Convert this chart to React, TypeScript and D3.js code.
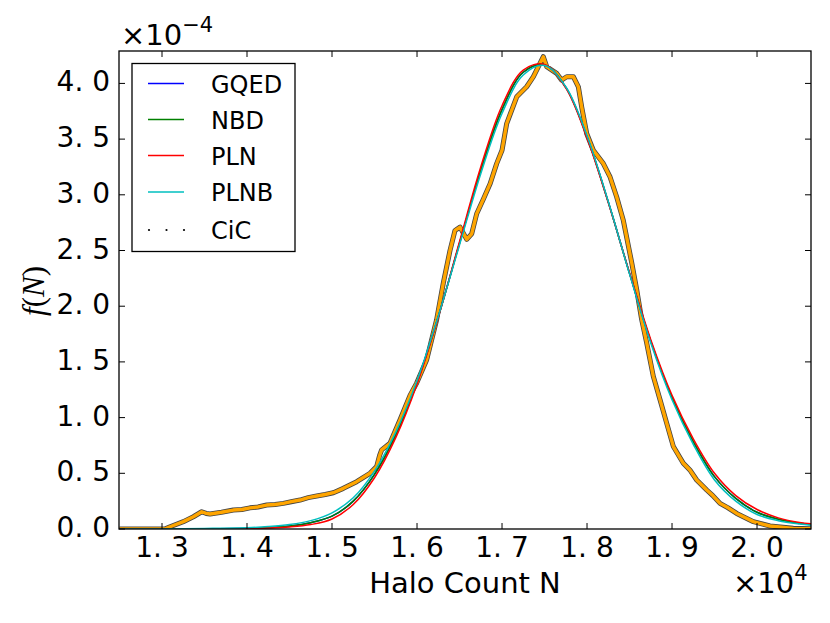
import React, { useRef, useEffect } from 'react';
import * as d3 from 'd3';

// model curves, f(N) in units of 1e-4
const modelN = [12500, 13000, 13500, 14000, 14250, 14500, 14750, 15000, 15250, 15500, 15750, 16000, 16250, 16500, 16750, 17000, 17250, 17500, 17750, 18000, 18250, 18500, 18750, 19000, 19250, 19500, 19750, 20000, 20250, 20500, 20650];
const gqed = [0, 0.0005, 0.002, 0.007, 0.014, 0.028, 0.057, 0.115, 0.25, 0.49, 0.845, 1.315, 1.905, 2.565, 3.22, 3.765, 4.10, 4.165, 3.965, 3.52, 2.935, 2.295, 1.685, 1.18, 0.785, 0.47, 0.275, 0.15, 0.088, 0.052, 0.040];
const nbd = [0, 0.0005, 0.002, 0.007, 0.014, 0.028, 0.057, 0.115, 0.25, 0.49, 0.845, 1.315, 1.905, 2.565, 3.22, 3.765, 4.10, 4.165, 3.965, 3.52, 2.935, 2.295, 1.685, 1.18, 0.785, 0.47, 0.275, 0.15, 0.088, 0.052, 0.040];
const pln = [0, 0, 0.0005, 0.003, 0.008, 0.018, 0.040, 0.090, 0.22, 0.46, 0.82, 1.30, 1.90, 2.58, 3.25, 3.80, 4.12, 4.17, 3.96, 3.51, 2.93, 2.30, 1.70, 1.20, 0.81, 0.50, 0.30, 0.175, 0.10, 0.058, 0.046];
const plnb = [0, 0.001, 0.005, 0.012, 0.022, 0.040, 0.075, 0.145, 0.28, 0.52, 0.87, 1.33, 1.91, 2.55, 3.19, 3.73, 4.075, 4.16, 3.97, 3.53, 2.94, 2.29, 1.67, 1.16, 0.76, 0.44, 0.25, 0.13, 0.075, 0.045, 0.033];

// counts-in-cells measurement
const cicN = [12500, 12900, 13030, 13094, 13251, 13369, 13467, 13520, 13565, 13700, 13839, 13940, 14035, 14130, 14231, 14330, 14427, 14520, 14624, 14720, 14820, 14920, 15016, 15133, 15290, 15447, 15525, 15560, 15584, 15682, 15800, 15918, 15996, 16114, 16231, 16310, 16388, 16447, 16506, 16585, 16643, 16702, 16780, 16860, 16937, 17000, 17055, 17173, 17290, 17369, 17447, 17486, 17526, 17643, 17700, 17761, 17839, 17898, 17937, 17996, 18074, 18192, 18271, 18349, 18427, 18526, 18584, 18643, 18702, 18780, 18859, 18937, 19016, 19133, 19210, 19290, 19408, 19480, 19565, 19660, 19761, 19957, 20153, 20427, 20635];
const cicF = [0, 0, 0, 0.02, 0.066, 0.11, 0.155, 0.14, 0.135, 0.15, 0.17, 0.175, 0.19, 0.198, 0.215, 0.22, 0.23, 0.245, 0.26, 0.282, 0.296, 0.31, 0.326, 0.365, 0.425, 0.50, 0.56, 0.66, 0.71, 0.77, 0.98, 1.20, 1.31, 1.52, 1.88, 2.21, 2.50, 2.68, 2.71, 2.60, 2.65, 2.83, 2.96, 3.10, 3.28, 3.40, 3.64, 3.88, 3.97, 4.06, 4.18, 4.24, 4.15, 4.09, 4.03, 4.06, 4.06, 3.97, 3.79, 3.55, 3.40, 3.28, 3.16, 2.98, 2.77, 2.39, 2.15, 1.88, 1.67, 1.37, 1.16, 0.95, 0.74, 0.59, 0.53, 0.44, 0.35, 0.30, 0.23, 0.19, 0.14, 0.066, 0.027, 0.006, 0.003];

const xTicks = [13000, 14000, 15000, 16000, 17000, 18000, 19000, 20000];
const xTickLabels = ['1. 3', '1. 4', '1. 5', '1. 6', '1. 7', '1. 8', '1. 9', '2. 0'];
const yTicks = [0, 0.5, 1, 1.5, 2, 2.5, 3, 3.5, 4];
const yTickLabels = ['0. 0', '0. 5', '1. 0', '1. 5', '2. 0', '2. 5', '3. 0', '3. 5', '4. 0'];

const seriesNames = ['GQED', 'NBD', 'PLN', 'PLNB'];
const seriesColors = ['#0000ff', '#008000', '#ff0000', '#00bfbf'];
const seriesValues = [gqed, nbd, pln, plnb];

const App: React.FC = () => {
  const svgRef = useRef<SVGSVGElement>(null);

  useEffect(() => {
    const svg = d3.select(svgRef.current);
    svg.selectAll('*').remove();

    const width = 830;
    const height = 623;
    const left = 119, right = 811, top = 51, bottom = 529;
    const font = 'DejaVu Sans, sans-serif';

    svg.attr('width', width).attr('height', height);

    const x = d3.scaleLinear().domain([12494, 20635]).range([left, right]);
    const y = d3.scaleLinear().domain([0, 4.291]).range([bottom, top]);

    svg.append('defs').append('clipPath').attr('id', 'plot-clip')
      .append('rect').attr('x', left).attr('y', top)
      .attr('width', right - left).attr('height', bottom - top);

    const plot = svg.append('g').attr('clip-path', 'url(#plot-clip)');

    // CiC band: dark edge under orange fill
    const cicPts: [number, number][] = cicN.map((n, i) => [x(n), y(cicF[i])]);
    const cicLine = d3.line<[number, number]>().x(d => d[0]).y(d => d[1]);
    plot.append('path').attr('d', cicLine(cicPts) || '')
      .attr('fill', 'none').attr('stroke', '#444').attr('stroke-width', 5)
      .attr('stroke-linejoin', 'round');
    plot.append('path').attr('d', cicLine(cicPts) || '')
      .attr('fill', 'none').attr('stroke', '#ffa500').attr('stroke-width', 3.4)
      .attr('stroke-linejoin', 'round');

    // model curves
    const modelLine = d3.line<[number, number]>()
      .x(d => d[0]).y(d => d[1])
      .curve(d3.curveCatmullRom.alpha(0.5));
    seriesValues.forEach((vals, si) => {
      const pts: [number, number][] = modelN.map((n, i) => [x(n), y(vals[i])]);
      plot.append('path').attr('d', modelLine(pts) || '')
        .attr('fill', 'none').attr('stroke', seriesColors[si]).attr('stroke-width', 1.5);
    });

    // frame
    svg.append('rect').attr('x', left).attr('y', top)
      .attr('width', right - left).attr('height', bottom - top)
      .attr('fill', 'none').attr('stroke', '#000').attr('stroke-width', 1.3);

    // ticks (inside, all four sides)
    const tl = 6;
    xTicks.forEach((t, i) => {
      const px = x(t);
      svg.append('line').attr('x1', px).attr('x2', px).attr('y1', bottom).attr('y2', bottom - tl)
        .attr('stroke', '#000').attr('stroke-width', 1);
      svg.append('line').attr('x1', px).attr('x2', px).attr('y1', top).attr('y2', top + tl)
        .attr('stroke', '#000').attr('stroke-width', 1);
      svg.append('text').attr('x', px).attr('y', 557)
        .attr('text-anchor', 'middle').attr('font-family', font).attr('font-size', 28)
        .style('white-space', 'pre')
        .text(xTickLabels[i]);
    });
    yTicks.forEach((t, i) => {
      const py = y(t);
      svg.append('line').attr('x1', left).attr('x2', left + tl).attr('y1', py).attr('y2', py)
        .attr('stroke', '#000').attr('stroke-width', 1);
      svg.append('line').attr('x1', right).attr('x2', right - tl).attr('y1', py).attr('y2', py)
        .attr('stroke', '#000').attr('stroke-width', 1);
      svg.append('text').attr('x', 110).attr('y', py + 8)
        .attr('text-anchor', 'end').attr('font-family', font).attr('font-size', 28)
        .style('white-space', 'pre')
        .text(yTickLabels[i]);
    });

    // offset texts
    const yOff = svg.append('text').attr('x', 121).attr('y', 45)
      .attr('font-family', font).attr('font-size', 29);
    yOff.append('tspan').text('×10');
    yOff.append('tspan').attr('dy', -13).attr('font-size', 21).text('−4');

    const xOff = svg.append('text').attr('x', 733).attr('y', 593)
      .attr('font-family', font).attr('font-size', 29);
    xOff.append('tspan').text('×10');
    xOff.append('tspan').attr('dy', -13).attr('font-size', 21).text('4');

    // axis labels
    svg.append('text').attr('x', (left + right) / 2).attr('y', 593)
      .attr('text-anchor', 'middle').attr('font-family', font).attr('font-size', 29)
      .text('Halo Count N');

    const yl = svg.append('text')
      .attr('transform', `translate(44, 291) rotate(-90)`)
      .attr('text-anchor', 'middle').attr('font-family', 'Liberation Serif, DejaVu Serif, serif')
      .attr('font-size', 31);
    yl.append('tspan').attr('font-style', 'italic').text('f');
    yl.append('tspan').text('(');
    yl.append('tspan').attr('font-style', 'italic').text('N');
    yl.append('tspan').text(')');

    // legend
    const lg = svg.append('g');
    lg.append('rect').attr('x', 132).attr('y', 63.5).attr('width', 163).attr('height', 188)
      .attr('fill', '#fff').attr('stroke', '#000').attr('stroke-width', 1.3);
    const rowY = [83.5, 119.5, 155.5, 192, 230];
    seriesNames.forEach((name, i) => {
      lg.append('line').attr('x1', 148).attr('x2', 184).attr('y1', rowY[i]).attr('y2', rowY[i])
        .attr('stroke', seriesColors[i]).attr('stroke-width', 1.5);
      lg.append('text').attr('x', 211).attr('y', rowY[i] + 9)
        .attr('font-family', font).attr('font-size', 24).text(name);
    });
    [149, 166.5, 184].forEach(cx => {
      lg.append('circle').attr('cx', cx).attr('cy', rowY[4]).attr('r', 1.1).attr('fill', '#000');
    });
    lg.append('text').attr('x', 211).attr('y', rowY[4] + 9)
      .attr('font-family', font).attr('font-size', 24).text('CiC');
  }, []);

  return (
    <svg ref={svgRef} style={{ position: 'absolute', left: 0, top: 0 }} />
  );
};

export default App;
